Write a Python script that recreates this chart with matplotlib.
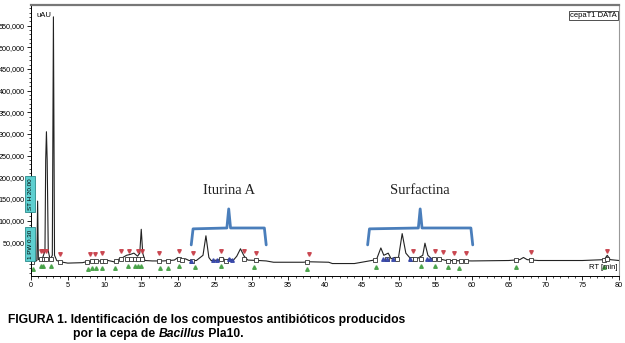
import numpy as np
import matplotlib.pyplot as plt
from matplotlib.ticker import MultipleLocator, FuncFormatter
from matplotlib.transforms import offset_copy

# Chromatogram trace (time in min, signal in uAU)
rt_min = [0.0, 0.5, 0.8, 0.9, 1.0, 1.3, 1.6, 1.9, 2.0, 2.1, 2.2, 2.35, 2.6, 2.9,
          3.05, 3.2, 3.5, 4.0, 5.0, 7.0, 7.5, 8.5, 9.5, 10.5, 11.3, 11.8, 12.5,
          13.0, 13.5, 14.0, 14.5, 14.8, 15.0, 15.2, 15.5, 16.5, 18.0, 19.5, 20.0,
          20.5, 21.0, 21.5, 22.5, 23.4, 23.8, 24.2, 24.5, 25.5, 26.0, 26.5, 27.0,
          27.5, 28.0, 28.5, 29.0, 29.5, 31.0, 32.0, 33.0, 37.0, 38.0, 40.5, 41.0,
          44.0, 46.0, 47.0, 47.6, 48.0, 48.6, 49.0, 49.5, 50.0, 50.5, 51.0, 51.5,
          52.5, 53.3, 53.6, 54.0, 54.5, 55.5, 56.5, 60.0, 65.0, 66.5, 67.0, 67.5,
          69.0, 75.0, 78.0, 78.4, 78.8, 80.0]
signal = [3000, 5000, 8000, 145000, 10000, 12000, 15000, 30000, 240000, 305000,
          240000, 30000, 10000, 20000, 570000, 20000, 8000, 5000, 2000, 3000, 5000,
          6000, 7000, 8000, 5000, 10000, 15000, 20000, 22000, 25000, 18000, 25000,
          80000, 25000, 8000, 7000, 7000, 9000, 15000, 8000, 12000, 8000, 8000,
          20000, 65000, 15000, 8000, 9000, 15000, 8000, 12000, 8000, 18000, 35000,
          18000, 9000, 8000, 7000, 4000, 4000, 5000, 4000, 1000, 1000, 7000, 10000,
          37000, 20000, 25000, 12000, 15000, 15000, 70000, 25000, 15000, 12000,
          20000, 48000, 20000, 12000, 12000, 8000, 7000, 8000, 10000, 15000, 10000,
          8000, 8000, 10000, 20000, 10000, 8000]

# peak integration marks
square_rt = [0.2, 1.4, 1.8, 2.1, 2.7, 3.9, 7.6, 8.3, 8.9, 9.7, 10.1, 11.5, 12.2,
             13.0, 13.6, 14.2, 14.6, 15.1, 17.4, 18.6, 20.1, 20.6, 21.9, 25.8,
             26.5, 29.0, 30.6, 37.6, 46.8, 48.5, 49.8, 51.7, 52.3, 53.1, 54.8,
             55.5, 56.8, 57.6, 58.5, 59.2, 66.0, 68.0, 77.9, 78.4]
red_rt = [1.3, 1.6, 2.1, 3.9, 8.0, 8.7, 9.7, 12.2, 13.3, 14.6, 15.1, 17.4, 20.1,
          22.0, 25.8, 29.0, 30.6, 37.8, 52.0, 55.0, 56.0, 57.5, 59.2, 68.0, 78.4]
green_rt = [0.3, 1.3, 1.6, 2.7, 7.8, 8.3, 8.8, 9.7, 11.4, 13.2, 14.2, 14.6, 15.0,
            17.5, 18.6, 20.1, 22.3, 25.8, 30.4, 37.6, 47.0, 53.0, 55.0, 56.8,
            58.2, 66.0, 77.9]
blue_rt = [21.8, 24.8, 25.3, 27.0, 27.4, 47.9, 48.5, 49.2, 51.5, 53.9, 54.3]

# compound groups
groups = ['Iturina A', 'Surfactina']
group_start = [21.8, 45.8]
group_end = [32.0, 60.1]

ytick_vals = list(range(50000, 600000, 50000))


def on_trace(t):
    # put the marks on the drawn trace, capped near the baseline
    y = np.interp(t, rt_min, signal)
    return np.minimum(y, 12000)


fig = plt.figure(figsize=(6.25, 3.43), dpi=100)
ax = fig.add_axes([0.0496, 0.195, 0.9408, 0.79])

ax.plot(rt_min, signal, color='#222222', lw=0.8)

ax.plot(square_rt, on_trace(square_rt), 's', ms=3.2, mfc='white', mec='#333333', mew=0.6)
up = offset_copy(ax.transData, fig=fig, x=0, y=5.5, units='points')
down = offset_copy(ax.transData, fig=fig, x=0, y=-5, units='points')
ax.plot(red_rt, on_trace(red_rt), 'v', ms=2.6, color='#c8404a', alpha=0.9, transform=up)
ax.plot(green_rt, on_trace(green_rt), '^', ms=2.6, color='#45a045', alpha=0.9, transform=down)
ax.plot(blue_rt, on_trace(blue_rt), '^', ms=2.6, color='#3545a8', alpha=0.9)

# brackets over the antibiotic groups
for name, a, b in zip(groups, group_start, group_end):
    mid = (a + b) / 2
    bx = [a, a + 0.25, mid - 0.25, mid, mid + 0.25, b - 0.25, b]
    by = [44000, 81000, 83000, 127000, 83000, 83000, 44000]
    ax.plot(bx, by, color='#4a7ebb', lw=2, solid_capstyle='round')
    ax.text(mid, 170000, name, ha='center', va='center', fontsize=10.5,
            family='Liberation Serif', color='#222222')

ax.set_xlim(0, 80)
ax.set_ylim(-28000, 597000)
ax.xaxis.set_major_locator(MultipleLocator(5))
ax.xaxis.set_minor_locator(MultipleLocator(1))
ax.set_yticks(ytick_vals)
ax.yaxis.set_minor_locator(MultipleLocator(10000))
ax.yaxis.set_major_formatter(FuncFormatter(lambda v, p: f'{int(v):,}'))
ax.tick_params(labelsize=5.2, length=3, width=0.6, pad=1.5)
ax.tick_params(which='minor', length=1.5, width=0.5)
for lab in ax.get_xticklabels() + ax.get_yticklabels():
    lab.set_family('Liberation Sans')

ax.spines['top'].set_color('#777777')
ax.spines['top'].set_linewidth(1.6)
ax.spines['right'].set_color('#999999')
ax.spines['right'].set_linewidth(0.8)
ax.spines['left'].set_linewidth(0.7)
ax.spines['bottom'].set_linewidth(0.7)

ax.text(0.009, 0.975, 'uAU', transform=ax.transAxes, fontsize=5.5, va='top',
        family='Liberation Sans')
ax.text(0.997, 0.02, 'RT [min]', transform=ax.transAxes, fontsize=5.5,
        ha='right', va='bottom', family='Liberation Sans')
ax.text(0.997, 0.975, 'cepaT1 DATA', transform=ax.transAxes, fontsize=5.5,
        ha='right', va='top', family='Liberation Sans',
        bbox=dict(boxstyle='square,pad=0.15', fc='white', ec='#333333', lw=0.6))

# cyan integration event boxes
for txt, yc in [('ST H 20.00', 1 - 194 / 343), ('1 PW 0.30', 1 - 244 / 343)]:
    fig.text(30 / 625, yc, txt, rotation=90, fontsize=4.5, ha='center', va='center',
             family='Liberation Sans',
             bbox=dict(boxstyle='square,pad=0.35', fc='#5ecfd0', ec='#2a8a8a', lw=0.6))

# caption, second line built from pieces so the genus can be italic
fig.text(8 / 625, 1 - 320 / 343,
         'FIGURA 1. Identificación de los compuestos antibióticos producidos',
         fontsize=8.7, fontweight='bold', family='Liberation Sans', va='center')
renderer = fig.canvas.get_renderer()
x0 = 73 / 625
for piece, style in [('por la cepa de ', 'normal'), ('Bacillus', 'italic'), (' Pla10.', 'normal')]:
    t = fig.text(x0, 1 - 334 / 343, piece, fontsize=8.7, fontweight='bold',
                 style=style, family='Liberation Sans', va='center')
    bb = t.get_window_extent(renderer)
    x0 = bb.x1 / fig.bbox.width

fig.savefig('out.png', dpi=100)
